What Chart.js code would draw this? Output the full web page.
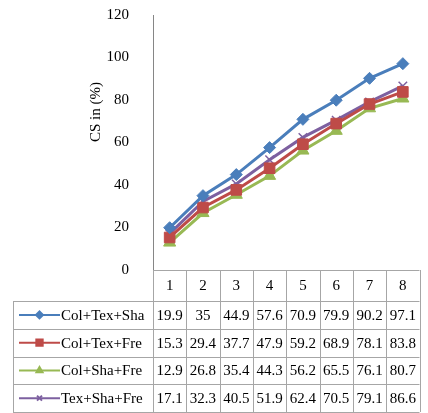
<!DOCTYPE html>
<html>
<head>
<meta charset="utf-8">
<script src="https://cdn.jsdelivr.net/npm/chart.js@4/dist/chart.umd.min.js"></script>
<style>
  html, body { margin: 0; padding: 0; background: #fff; }
  #wrap { width: 428px; height: 413px; }
</style>
</head>
<body>
<div id="wrap"><canvas id="myChart" width="428" height="413"></canvas></div>
<script>
// categories and series
const categories = ["1", "2", "3", "4", "5", "6", "7", "8"];
const seriesNames = ["Col+Tex+Sha", "Col+Tex+Fre", "Col+Sha+Fre", "Tex+Sha+Fre"];
const colTexSha = [19.9, 35, 44.9, 57.6, 70.9, 79.9, 90.2, 97.1];
const colTexFre = [15.3, 29.4, 37.7, 47.9, 59.2, 68.9, 78.1, 83.8];
const colShaFre = [12.9, 26.8, 35.4, 44.3, 56.2, 65.5, 76.1, 80.7];
const texShaFre = [17.1, 32.3, 40.5, 51.9, 62.4, 70.5, 79.1, 86.6];
const yTicks = [0, 20, 40, 60, 80, 100, 120];

const colors = ["#4a7ebb", "#be4b48", "#98b954", "#7d60a0"];
const shapes = ["rectRot", "rect", "triangle", "crossRot"];
const radii = [6, 7.5, 7, 6];
const allSeries = [colTexSha, colTexFre, colShaFre, texShaFre];

const FONT = "Liberation Serif, Times New Roman, serif";
const gridColor = "#a6a6a6";

// draws the data table under the plot, using x scale positions
const tablePlugin = {
  id: "dataTable",
  afterDraw(chart) {
    const ctx = chart.ctx;
    const area = chart.chartArea;
    const xs = chart.scales.x;
    const rowTop = area.bottom;
    const headH = 31;
    const rowH = 27.75;
    const legendLeft = 13;
    const nRows = allSeries.length;
    const tableBottom = rowTop + headH + rowH * nRows;

    // column edges
    const edges = [area.left];
    for (let i = 0; i < categories.length - 1; i++) {
      edges.push((xs.getPixelForValue(i) + xs.getPixelForValue(i + 1)) / 2);
    }
    edges.push(area.right);

    ctx.save();
    ctx.strokeStyle = gridColor;
    ctx.lineWidth = 1;
    ctx.beginPath();
    // top of header row (x axis)
    ctx.moveTo(area.left, Math.round(rowTop) + 0.5);
    ctx.lineTo(area.right, Math.round(rowTop) + 0.5);
    // horizontal row lines
    for (let r = 0; r <= nRows; r++) {
      const y = Math.round(rowTop + headH + r * rowH) + 0.5;
      ctx.moveTo(legendLeft, y);
      ctx.lineTo(area.right, y);
    }
    // vertical column lines
    edges.forEach((x, i) => {
      const xx = Math.round(x) + 0.5;
      ctx.moveTo(xx, rowTop);
      ctx.lineTo(xx, tableBottom);
    });
    ctx.moveTo(legendLeft + 0.5, rowTop + headH);
    ctx.lineTo(legendLeft + 0.5, tableBottom);
    ctx.stroke();

    ctx.fillStyle = "#000";
    ctx.font = "15px " + FONT;
    ctx.textBaseline = "middle";
    ctx.textAlign = "center";
    categories.forEach((c, i) => {
      ctx.fillText(c, xs.getPixelForValue(i), rowTop + headH / 2 + 1);
    });

    allSeries.forEach((vals, r) => {
      const yc = rowTop + headH + r * rowH + rowH / 2 + 1;
      ctx.textAlign = "center";
      ctx.fillStyle = "#000";
      vals.forEach((v, i) => {
        ctx.fillText(String(v), xs.getPixelForValue(i), yc);
      });
      // legend key
      ctx.strokeStyle = colors[r];
      ctx.lineWidth = 2;
      ctx.beginPath();
      ctx.moveTo(19, yc - 1);
      ctx.lineTo(60, yc - 1);
      ctx.stroke();
      Chart.helpers.drawPoint(ctx, {
        pointStyle: shapes[r],
        radius: shapes[r] === "rect" ? 4.5 : 3.5,
        rotation: 0,
        borderWidth: 1
      }, 39.5, yc - 1);
      ctx.fillStyle = colors[r];
      ctx.fill();
      ctx.fillStyle = "#000";
      ctx.textAlign = "left";
      ctx.fillText(seriesNames[r], 61, yc);
    });

    // y axis title
    ctx.save();
    ctx.translate(96, 112);
    ctx.rotate(-Math.PI / 2);
    ctx.textAlign = "center";
    ctx.fillStyle = "#000";
    ctx.font = "15px " + FONT;
    ctx.fillText("CS in (%)", 0, 0);
    ctx.restore();

    ctx.restore();
  }
};

window.myChart = new Chart("myChart", {
  type: "line",
  data: {
    labels: categories,
    datasets: allSeries.map((vals, i) => ({
      label: seriesNames[i],
      data: vals,
      borderColor: colors[i],
      backgroundColor: colors[i],
      borderWidth: 3,
      pointStyle: shapes[i],
      pointRadius: radii[i],
      pointBorderWidth: i === 3 ? 1.5 : 1,
      pointBorderColor: colors[i],
      pointBackgroundColor: colors[i],
      tension: 0
    }))
  },
  options: {
    responsive: false,
    animation: false,
    layout: { padding: { left: 0, right: 5, top: 15, bottom: 1 } },
    plugins: {
      legend: { display: false },
      tooltip: { enabled: false }
    },
    scales: {
      x: {
        offset: true,
        grid: { display: false },
        border: { display: false },
        ticks: { display: false },
        afterFit(scale) {
          scale.height = 142;
          scale.paddingLeft = 0;
          scale.paddingRight = 0;
        }
      },
      y: {
        min: 0,
        max: 120,
        afterBuildTicks(scale) { scale.ticks = yTicks.map(v => ({ value: v })); },
        grid: { display: false },
        border: { display: true, color: "#868686", width: 1 },
        ticks: {
          padding: 16,
          color: "#000",
          font: { family: FONT, size: 15 }
        },
        afterFit(scale) {
          scale.width = 153;
          scale.paddingTop = 0;
          scale.paddingBottom = 0;
        }
      }
    }
  },
  plugins: [tablePlugin]
});
</script>
</body>
</html>
